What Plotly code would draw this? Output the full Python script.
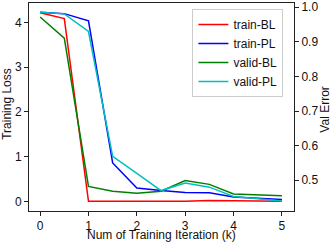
import plotly.graph_objects as go

x = [0, 0.5, 1, 1.5, 2, 2.5, 3, 3.5, 4, 4.5, 5]
train_bl = [4.22, 4.09, 0.0, 0.0, 0.0, 0.0, 0.0, 0.02, 0.01, 0.01, 0.0]
train_pl = [4.23, 4.2, 4.04, 0.86, 0.3, 0.24, 0.2, 0.19, 0.1, 0.07, 0.04]
valid_bl = [0.972, 0.911, 0.482, 0.468, 0.462, 0.468, 0.499, 0.488, 0.46, 0.458, 0.455]
valid_pl = [0.986, 0.981, 0.93, 0.569, 0.52, 0.47, 0.492, 0.48, 0.453, 0.446, 0.44]

x_ticks = [0, 1, 2, 3, 4, 5]
left_ticks = [0, 1, 2, 3, 4]
right_ticks = [0.5, 0.6, 0.7, 0.8, 0.9, 1.0]
right_labels = ["0.5", "0.6", "0.7", "0.8", "0.9", "1.0"]

FONT = "Liberation Sans, Arial, sans-serif"
FS = 12

fig = go.Figure()
fig.add_trace(go.Scatter(x=x, y=train_bl, name="train-BL", mode="lines",
                         line=dict(color="#FF0000", width=1.5), yaxis="y"))
fig.add_trace(go.Scatter(x=x, y=train_pl, name="train-PL", mode="lines",
                         line=dict(color="#0000FF", width=1.5), yaxis="y"))
fig.add_trace(go.Scatter(x=x, y=valid_bl, name="valid-BL", mode="lines",
                         line=dict(color="#008000", width=1.5), yaxis="y2"))
fig.add_trace(go.Scatter(x=x, y=valid_pl, name="valid-PL", mode="lines",
                         line=dict(color="#00BFBF", width=1.5), yaxis="y2"))

axis_common = dict(showline=True, linecolor="#222", linewidth=1, ticks="outside",
                   ticklen=4, tickcolor="#222", showgrid=False, zeroline=False,
                   automargin=False, ticklabeloverflow="allow",
                   tickfont=dict(family=FONT, size=FS, color="#111"))

fig.update_layout(
    width=332, height=242,
    margin=dict(l=29, r=38, t=3, b=31, autoexpand=False),
    paper_bgcolor="white", plot_bgcolor="white",
    font=dict(family=FONT, size=FS, color="#111"),
    xaxis=dict(range=[-0.23, 5.25], tickvals=x_ticks, mirror=True, **axis_common),
    yaxis=dict(range=[-0.216, 4.438], tickvals=left_ticks, **axis_common),
    yaxis2=dict(range=[0.411, 1.0124], tickvals=right_ticks, ticktext=right_labels,
                overlaying="y", side="right", **axis_common),
    legend=dict(x=0.96, y=0.971, xanchor="right", yanchor="top",
                bgcolor="rgba(255,255,255,0.9)", bordercolor="#ccc", borderwidth=1,
                font=dict(family=FONT, size=FS, color="#111"),
                itemwidth=30, tracegroupgap=0),
    showlegend=True,
    annotations=[
        dict(text="Num of Training Iteration (k)", xref="paper", yref="paper",
             x=0.5, y=-0.115, xanchor="center", yanchor="middle", showarrow=False,
             font=dict(family=FONT, size=FS, color="#111")),
        dict(text="Training Loss", xref="paper", yref="paper", textangle=-90,
             x=-0.084, y=0.514, xanchor="center", yanchor="middle", showarrow=False,
             font=dict(family=FONT, size=FS, color="#111")),
        dict(text="Val Error", xref="paper", yref="paper", textangle=-90,
             x=1.116, y=0.486, xanchor="center", yanchor="middle", showarrow=False,
             font=dict(family=FONT, size=FS, color="#111")),
    ],
)

fig.write_html(
    "out.html",
    config={"displayModeBar": False},
    post_script="document.body.style.margin='0';document.body.style.padding='0';",
)
